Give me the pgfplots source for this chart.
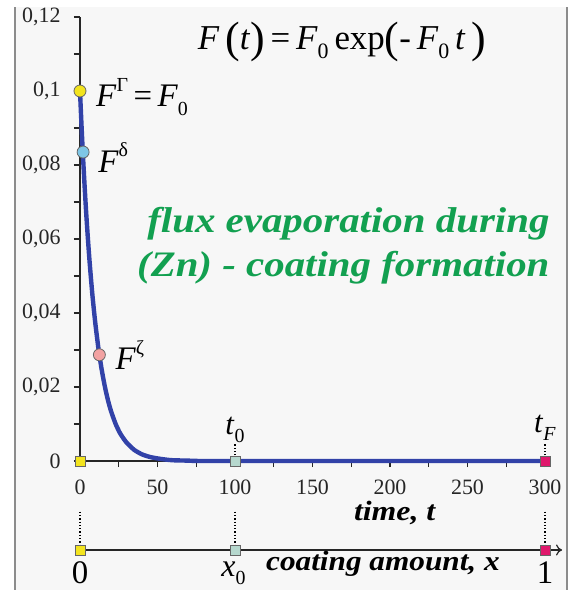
\documentclass[border=0pt]{standalone}
\usepackage{fontspec}
\setmainfont{Liberation Serif}
\usepackage{pgfplots}
\pgfplotsset{compat=1.18}
\usetikzlibrary{arrows.meta}

\definecolor{bgc}{HTML}{F7F7F7}
\definecolor{curvec}{HTML}{3242A8}
\definecolor{yel}{HTML}{F3E41E}
\definecolor{lblue}{HTML}{7EC6E6}
\definecolor{pinkc}{HTML}{F2A2A2}
\definecolor{teal}{HTML}{B6D8CE}
\definecolor{mag}{HTML}{E0186C}
\definecolor{greenc}{HTML}{12A050}

\newcommand{\sz}[1]{\fontsize{#1}{#1}\selectfont}
\newcommand{\Fi}{\textit{F}}
\newcommand{\sps}[2][20]{\raisebox{0.46em}{\sz{#1}#2}}
\newcommand{\sbs}[2][20]{\raisebox{-0.26em}{\sz{#1}#2}}
\newcommand{\bp}[1]{{\sz{44}\raisebox{-0.06em}{#1}}}
\newcommand{\wide}[2]{\scalebox{#1}[1]{#2}}

\begin{document}
\begin{tikzpicture}
% frame of the figure
\fill[bgc] (-65bp,-129bp) rectangle (487bp,454bp);
\draw[black!45, line width=1.5bp] (-65bp,-129bp) -- (-65bp,454bp);
\draw[black!45, line width=1.5bp] (487bp,-129bp) -- (487bp,454bp);

\begin{axis}[
  scale only axis, width=465bp, height=444bp,
  xmin=0, xmax=300, ymin=0, ymax=0.12,
  axis lines=left,
  axis line style={-, line width=1.1bp, black!85},
  xtick={0,50,100,150,200,250,300},
  ytick={0,0.02,0.04,0.06,0.08,0.1,0.12},
  minor x tick num=1, minor y tick num=1,
  tick align=outside,
  major tick length=6bp, minor tick length=6bp,
  tick style={line width=1.1bp, black!85},
  tick label style={font=\sz{22}, text=black!85},
  xticklabel style={yshift=-9bp},
  yticklabel style={font=\sz{22}, xshift=-10bp},
  /pgf/number format/use comma,
  /pgf/number format/fixed,
  /pgf/number format/precision=2,
  /pgf/number format/assume math mode=true,
  scaled y ticks=false,
  clip=false,
]
% F(t) curve
\addplot[curvec, line width=4.4bp, smooth, tension=0.4] coordinates {
  (0,0.1) (1,0.0905) (2,0.0819) (3,0.0741) (4,0.0670) (5,0.0607)
  (6,0.0549) (7,0.0497) (8,0.0449) (9,0.0407) (10,0.0368) (12,0.0301)
  (14,0.0247) (16,0.0202) (18,0.0165) (20,0.0135) (23,0.0100) (26,0.0074)
  (30,0.0050) (35,0.0030) (40,0.0018) (45,0.0011) (50,0.0007) (55,0.0004)
  (60,0.0002) (70,0.0001) (80,0) (150,0) (300,0)
};

% dotted guides
\draw[dotted, line width=1.3bp] (axis cs:0,-0.0137) -- (axis cs:0,-0.0232);
\draw[dotted, line width=1.3bp] (axis cs:100,-0.0137) -- (axis cs:100,-0.0232);
\draw[dotted, line width=1.3bp] (axis cs:300,-0.0137) -- (axis cs:300,-0.0232);
\draw[dotted, line width=1.3bp] (axis cs:100,0.0015) -- (axis cs:100,0.0050);
\draw[dotted, line width=1.3bp] (axis cs:300,0.0015) -- (axis cs:300,0.0050);

% coating amount axis
\draw[-{To[length=6bp,width=11bp]}, line width=1.2bp, black!85]
  (axis cs:0,-0.02405) -- (axis cs:311,-0.02405);

% squares
\addplot[only marks, mark=square*, mark size=5bp,
  mark options={fill=yel, draw=black!60, line width=0.8bp}]
  coordinates {(0,0) (0,-0.02405)};
\addplot[only marks, mark=square*, mark size=5bp,
  mark options={fill=teal, draw=black!60, line width=0.8bp}]
  coordinates {(100,0) (100,-0.02405)};
\addplot[only marks, mark=square*, mark size=5bp,
  mark options={fill=mag, draw=black!60, line width=0.8bp}]
  coordinates {(300,0) (300,-0.02405)};

% circles
\addplot[only marks, mark=*, mark size=6bp,
  mark options={fill=yel, draw=black!60, line width=0.8bp}]
  coordinates {(0,0.1)};
\addplot[only marks, mark=*, mark size=6bp,
  mark options={fill=lblue, draw=black!60, line width=0.8bp}]
  coordinates {(2,0.0835)};
\addplot[only marks, mark=*, mark size=6bp,
  mark options={fill=pinkc, draw=black!60, line width=0.8bp}]
  coordinates {(12.5,0.0287)};

% labels
\node[anchor=base west, inner sep=0, xshift=16bp] at (axis cs:0,0.0957)
  {\sz{33}\Fi\sps{Γ}\,=\,\Fi\sbs{0}};
\node[anchor=base west, inner sep=0, xshift=15bp] at (axis cs:2,0.0781)
  {\sz{33}\Fi\sps{δ}};
\node[anchor=base west, inner sep=0, xshift=16bp] at (axis cs:12.5,0.0246)
  {\sz{33}\Fi\sps{ζ}};

\node[anchor=base, inner sep=0] at (axis cs:169,0.1111)
  {\sz{35}\Fi\,\bp{(}\textit{t}\bp{)}\,=\,\Fi\sbs[22]{0}\,exp\bp{(}-\,\Fi\sbs[22]{0}\,\textit{t}\,\bp{)}};

\node[anchor=base east, inner sep=0, text=greenc] at (axis cs:303,0.0618)
  {\wide{1.14}{\sz{36}\bfseries\itshape flux evaporation during}};
\node[anchor=base east, inner sep=0, text=greenc] at (axis cs:303,0.0498)
  {\wide{1.14}{\sz{36}\bfseries\itshape (Zn) - coating formation}};

\node[anchor=base, inner sep=0] at (axis cs:100,0.0072)
  {\sz{31}\textit{t}\sbs{0}};
\node[anchor=base, inner sep=0] at (axis cs:300,0.0076)
  {\sz{31}\textit{t}\sbs{\textit{F}}};

\node[anchor=base, inner sep=0] at (axis cs:203,-0.0161)
  {\wide{1.14}{\sz{28}\bfseries\itshape time, t}};

\node[anchor=base, inner sep=0] at (axis cs:0,-0.0332) {\sz{33}0};
\node[anchor=base, inner sep=0] at (axis cs:300,-0.0332) {\sz{33}1};
\node[anchor=base, inner sep=0] at (axis cs:99,-0.0312) {\sz{32}\textit{x}\sbs{0}};
\node[anchor=base west, inner sep=0] at (axis cs:120,-0.0295)
  {\wide{1.12}{\sz{28}\bfseries\itshape coating amount, x}};
\end{axis}
\pgfresetboundingbox
\path[use as bounding box] (-80bp,-129bp) rectangle (490bp,461bp);
\end{tikzpicture}
\end{document}
